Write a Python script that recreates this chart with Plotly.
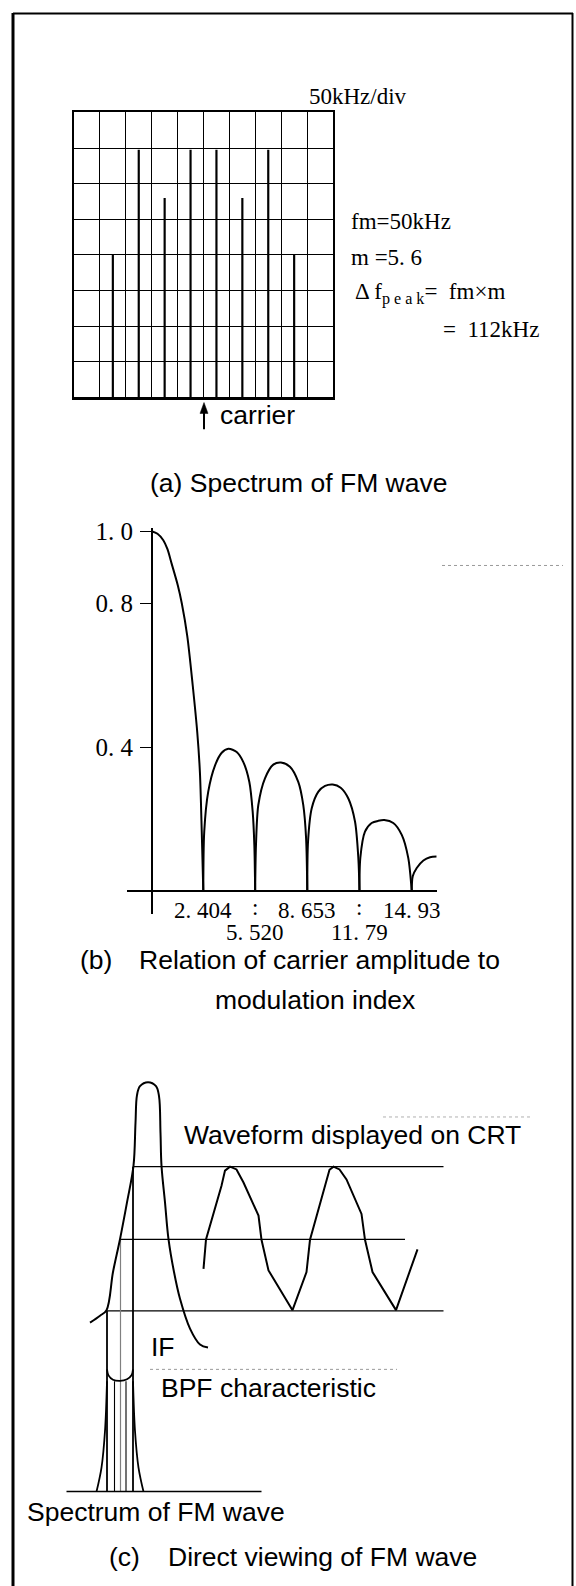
import plotly.graph_objects as go

W, H = 576, 1586

SANS = "Liberation Sans, Arial, sans-serif"
SERIF = "Liberation Serif, Times New Roman, serif"
CAP = 26.5
NUM = 23
TICK = 25


def fx(x):
    """page pixel column -> paper x"""
    return x / W


def fy(y):
    """page pixel row -> paper y"""
    return 1 - y / H


# ---------------- (a) spectrum analyser display, fm = 50 kHz, m = 5.6 ----------------
sideband_khz = [-175, -125, -75, -25, 25, 75, 125, 175]
sideband_div = [4.0, 6.95, 5.6, 6.95, 6.95, 5.6, 6.95, 4.0]

# ---------------- (b) carrier amplitude |J0(m)| vs modulation index ----------------
bessel_m = [-0.70, -0.35, 0.00, 0.25, 0.50, 0.87, 1.11, 1.44, 1.77, 2.04, 2.20, 2.31, 2.37, 2.404,
            2.46, 2.70, 3.11, 3.51, 3.91, 4.41, 4.81, 5.17, 5.37, 5.47, 5.52,
            5.57, 5.71, 6.11, 6.61, 7.07, 7.61, 8.11, 8.41, 8.58, 8.653,
            8.70, 8.92, 9.32, 9.72, 10.18, 10.66, 11.12, 11.52, 11.72, 11.79,
            11.84, 12.12, 12.52, 12.92, 13.28, 13.82, 14.33, 14.72, 14.93,
            14.99, 15.23, 15.63, 16.03, 16.43]
bessel_amp = [1.000, 0.993, 0.975, 0.950, 0.910, 0.850, 0.800, 0.709, 0.571, 0.442, 0.330, 0.166, 0.060, 0.000,
              0.166, 0.277, 0.350, 0.385, 0.396, 0.387, 0.359, 0.304, 0.222, 0.130, 0.000,
              0.130, 0.240, 0.314, 0.352, 0.358, 0.346, 0.304, 0.240, 0.148, 0.000,
              0.140, 0.231, 0.277, 0.293, 0.297, 0.288, 0.258, 0.194, 0.093, 0.000,
              0.093, 0.166, 0.190, 0.196, 0.198, 0.190, 0.157, 0.093, 0.000,
              0.042, 0.065, 0.086, 0.095, 0.097]
zero_m = [2.404, 5.520, 8.653, 11.79, 14.93]
zero_labels = ["2. 404", "5. 520", "8. 653", "11. 79", "14. 93"]
amp_ticks = [0.4, 0.8, 1.0]
amp_tick_labels = ["0. 4", "0. 8", "1. 0"]

# ---------------- (c) direct viewing through a narrow BPF ----------------
if_x = [8.0, 10.0, 11.3, 12.6, 14.0, 15.4, 16.7, 17.1, 17.4, 18.0, 19.6, 21.2, 21.8, 22.1,
        22.3, 23.0, 23.7, 24.8, 26.0, 28.0, 30.0, 31.6]
if_y = [44.75, 46.5, 47.9, 57.5, 65.75, 75.0, 84.25, 95.0, 102.0, 104.25, 105.25, 104.25, 101.75, 92.5,
        84.25, 75.0, 65.75, 57.5, 50.75, 43.25, 39.25, 38.5]
crt_level = [84.0, 65.7, 47.7]
crt_from = [16.6, 14.1, 11.4]
crt_to = [78.7, 71.0, 78.7]
wave_x = [30.7, 31.2, 34.3, 34.5, 35.0, 36.0, 37.3, 38.7, 41.7, 42.3, 43.7, 48.5,
          51.3, 52.0, 55.0, 55.3, 55.9, 56.7, 57.9, 59.3, 62.3, 63.0, 64.5, 69.2, 73.5]
wave_y = [58.3, 65.7, 79.2, 80.5, 83.0, 84.0, 83.3, 80.0, 71.7, 65.6, 57.9, 47.9,
          57.5, 65.6, 79.2, 80.8, 83.2, 84.0, 83.3, 80.8, 72.1, 65.6, 57.5, 47.9, 63.2]
line_x = [12.9, 15.2]
line_top = 30.0
base_y = 2.25
base_x = [3.3, 42.3]
bpf_x = [11.4, 11.7, 12.6, 14.0, 15.4, 16.3, 16.6]
bpf_y = [33.0, 31.5, 30.4, 30.1, 30.5, 31.5, 33.0]
env_left_x = [9.3, 10.3, 11.0, 11.4]
env_right_x = [18.7, 17.7, 17.0, 16.6]
env_y = [2.25, 8.3, 17.5, 30.0]

fig = go.Figure()

# (a) spectral lines
fig.add_trace(go.Bar(x=sideband_khz, y=sideband_div, width=4.2,
                     marker=dict(color="black", line=dict(width=0)),
                     xaxis="x", yaxis="y", hoverinfo="skip"))

# (b) curve, one lobe at a time so every null is a sharp cusp
seg_x, seg_y = [], []
for m, a in zip(bessel_m, bessel_amp):
    seg_x.append(m)
    seg_y.append(a)
    if a == 0.0:
        fig.add_trace(go.Scatter(x=seg_x, y=seg_y, mode="lines",
                                 line=dict(color="black", width=2, shape="spline", smoothing=0.8),
                                 xaxis="x2", yaxis="y2", hoverinfo="skip"))
        seg_x, seg_y = [m], [a]
fig.add_trace(go.Scatter(x=seg_x, y=seg_y, mode="lines",
                         line=dict(color="black", width=2, shape="spline", smoothing=0.8),
                         xaxis="x2", yaxis="y2", hoverinfo="skip"))


# (c) traces
def c_line(xs, ys, width=1.8, color="black", shape="linear"):
    fig.add_trace(go.Scatter(x=xs, y=ys, mode="lines",
                             line=dict(color=color, width=width, shape=shape),
                             xaxis="x3", yaxis="y3", hoverinfo="skip"))


# level lines
lx, ly = [], []
for lv, a, b in zip(crt_level, crt_from, crt_to):
    lx += [a, b, None]
    ly += [lv, lv, None]
c_line(lx, ly, width=1.3)
# projections from the flank down to the spectrum
c_line([crt_from[0], crt_from[0]], [crt_level[0], base_y], width=1.8)
c_line([crt_from[1], crt_from[1]], [crt_level[1], base_y], width=1.2, color="#808080")
c_line([crt_from[2], crt_from[2]], [crt_level[2], base_y], width=1.8)
for x in line_x:
    c_line([x, x], [line_top, base_y], width=1.1)
c_line(bpf_x, bpf_y, width=1.8, shape="spline")
c_line(env_left_x, env_y, width=1.8, shape="spline")
c_line(env_right_x, env_y, width=1.8, shape="spline")
c_line(base_x, [base_y, base_y], width=1.5)
c_line(if_x, if_y, width=2, shape="spline")
c_line(wave_x, wave_y, width=2)

# ---------------- text ----------------
ann = []


def label(text, x, y, size=CAP, family=SANS, xanchor="left"):
    ann.append(dict(text=text, x=fx(x), y=fy(y), xref="paper", yref="paper",
                    xanchor=xanchor, yanchor="middle", showarrow=False,
                    font=dict(family=family, size=size, color="black")))


# (a)
label("50kHz/div", 307, 87, NUM, SERIF)
label("fm=50kHz", 349, 213, NUM, SERIF)
label("m =5. 6", 348.5, 249, NUM, SERIF)
label("Δ f<sub>p e a k</sub>=  fm×m", 353, 285, NUM, SERIF)
label("=  112kHz", 541, 322, NUM, SERIF, xanchor="right")
label("carrier", 218, 408)
label("(a) Spectrum of FM wave", 148, 476)

# (b) null positions, alternating rows with dotted leaders
for i, (m, t) in enumerate(zip(zero_m, zero_labels)):
    ann.append(dict(text=t, x=m, y=fy(906.7 if i % 2 == 0 else 928), xref="x2", yref="paper",
                    xanchor="center", yanchor="middle", showarrow=False,
                    font=dict(family=SERIF, size=NUM, color="black")))
    if i % 2 == 1:
        ann.append(dict(text=":", x=m, y=fy(903), xref="x2", yref="paper",
                        xanchor="center", yanchor="middle", showarrow=False,
                        font=dict(family=SERIF, size=NUM, color="black")))
label("(b)", 78, 956)
label("Relation of carrier amplitude to", 137, 956)
label("modulation index", 315, 996, xanchor="center")

# (c)
label("Waveform displayed on CRT", 181.7, 1131.7)
label("IF", 149.3, 1345)
label("BPF characteristic", 159.3, 1386.7)
label("Spectrum of FM wave", 25, 1511.7)
label("(c)", 106.7, 1556.7)
label("Direct viewing of FM wave", 165.7, 1556.7)

# page frame, carrier pointer and faint leader dots
shapes = [
    dict(type="line", xref="paper", yref="paper", x0=fx(13), x1=fx(13), y0=-0.01, y1=fy(3),
         line=dict(color="black", width=3)),
    dict(type="line", xref="paper", yref="paper", x0=fx(13), x1=fx(573), y0=fy(3.5), y1=fy(3.5),
         line=dict(color="black", width=2)),
    dict(type="line", xref="paper", yref="paper", x0=fx(572.5), x1=fx(572.5), y0=-0.01, y1=fy(3),
         line=dict(color="black", width=2)),
    dict(type="line", xref="paper", yref="paper", x0=fx(204), x1=fx(204), y0=fy(422), y1=fy(404),
         line=dict(color="black", width=2)),
    dict(type="path", xref="paper", yref="paper",
         path=f"M {fx(204)},{fy(395)} L {fx(200)},{fy(406)} L {fx(208)},{fy(406)} Z",
         fillcolor="black", line=dict(color="black", width=0.5)),
    dict(type="line", xref="paper", yref="paper", x0=fx(442), x1=fx(563), y0=fy(559), y1=fy(559),
         line=dict(color="#9a9a9a", width=1, dash="dot")),
    dict(type="line", xref="paper", yref="paper", x0=fx(383), x1=fx(530), y0=fy(1114), y1=fy(1114),
         line=dict(color="#b0b0b0", width=1, dash="dot")),
    dict(type="line", xref="paper", yref="paper", x0=fx(150), x1=fx(397), y0=fy(1368), y1=fy(1368),
         line=dict(color="#9a9a9a", width=1, dash="dot")),
]

hidden = dict(visible=False, fixedrange=True)
grid_axis = dict(showgrid=True, gridcolor="black", gridwidth=1.3,
                 zeroline=True, zerolinecolor="black", zerolinewidth=1.3,
                 showline=True, mirror=True, linecolor="black", linewidth=2.2,
                 ticks="", showticklabels=False, fixedrange=True)

fig.update_layout(
    width=W, height=H, margin=dict(l=0, r=0, t=0, b=0),
    paper_bgcolor="white", plot_bgcolor="rgba(0,0,0,0)",
    showlegend=False, barmode="overlay",
    xaxis=dict(domain=[fx(74), fx(333)], range=[-250, 250], tick0=0, dtick=50, anchor="y", **grid_axis),
    yaxis=dict(domain=[fy(390), fy(103)], range=[0, 8], tick0=0, dtick=1, anchor="x", **grid_axis),
    xaxis2=dict(domain=[fx(126.7), fx(436.7)], range=[-2.2, 16.43], anchor="y2",
                showgrid=False, zeroline=False, showline=False, showticklabels=False,
                ticks="", fixedrange=True),
    yaxis2=dict(domain=[fy(910), fy(520.9)], range=[-0.0634, 1.01], anchor="free",
                position=fx(151.7), showgrid=False,
                zeroline=True, zerolinecolor="black", zerolinewidth=1.5,
                showline=True, linecolor="black", linewidth=1.5,
                ticks="outside", ticklen=11, tickwidth=1.2, tickcolor="black",
                tickvals=amp_ticks, ticktext=amp_tick_labels, ticklabelstandoff=2,
                tickfont=dict(family=SERIF, size=TICK, color="black"), fixedrange=True),
    xaxis3=dict(domain=[fx(50), fx(550)], range=[0, 100], anchor="y3", **hidden),
    yaxis3=dict(domain=[fy(1500), fy(1060)], range=[0, 110], anchor="x3", **hidden),
    annotations=ann,
    shapes=shapes,
)

fig.write_html("out.html")
